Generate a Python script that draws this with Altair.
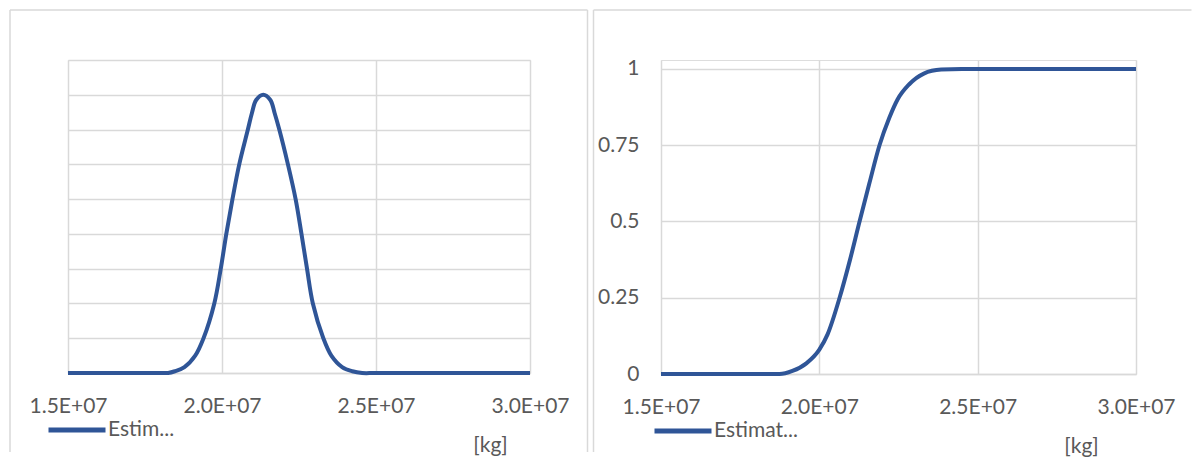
import altair as alt
import pandas as pd

# ---- data ----
x_ticks = [1.5e7, 2.0e7, 2.5e7, 3.0e7]
pdf_grid = [0, 5e-8, 1e-7, 1.5e-7, 2e-7, 2.5e-7, 3e-7, 3.5e-7, 4e-7, 4.5e-7]
cdf_ticks = [0, 0.25, 0.5, 0.75, 1]

pdf_x = [1.500e7, 1.800e7, 1.825e7, 1.847e7, 1.878e7, 1.913e7, 1.940e7, 1.975e7,
         1.996e7, 2.014e7, 2.034e7, 2.056e7, 2.084e7, 2.097e7, 2.111e7, 2.134e7,
         2.157e7, 2.171e7, 2.186e7, 2.214e7, 2.239e7, 2.258e7, 2.276e7, 2.295e7,
         2.329e7, 2.355e7, 2.390e7, 2.423e7, 2.455e7, 2.500e7, 3.000e7]
pdf_y = [0.0, 0.0, 0.0, 2.5e-9, 8.5e-9, 2.5e-8, 5.0e-8, 1.0e-7,
         1.5e-7, 2.0e-7, 2.5e-7, 3.0e-7, 3.5e-7, 3.735e-7, 3.925e-7, 4.0e-7,
         3.925e-7, 3.735e-7, 3.5e-7, 3.0e-7, 2.5e-7, 2.0e-7, 1.5e-7, 1.0e-7,
         5.0e-8, 2.5e-8, 8.5e-9, 2.5e-9, 0.0, 0.0, 0.0]

cdf_x = [1.500e7, 1.800e7, 1.874e7, 1.915e7, 1.959e7, 2.000e7, 2.026e7, 2.064e7,
         2.097e7, 2.127e7, 2.158e7, 2.190e7, 2.221e7, 2.247e7, 2.284e7, 2.330e7,
         2.385e7, 2.450e7, 3.000e7]
cdf_y = [0.0, 0.0, 0.0, 0.01, 0.035, 0.08, 0.13, 0.25,
         0.375, 0.5, 0.625, 0.75, 0.84, 0.9, 0.95, 0.985,
         0.998, 1.0, 1.0]

pdf_name = "Estim..."
cdf_name = "Estimat..."
unit_label = "[kg]"

# ---- style ----
BLUE = "#2F5597"
GRID = "#D9D9D9"
TEXT = "#595959"
FONT = "Lato"
FS = 21

pdf_df = pd.DataFrame({"mass": pdf_x, "value": pdf_y, "series": pdf_name})
cdf_df = pd.DataFrame({"mass": cdf_x, "value": cdf_y, "series": cdf_name})
frame_src = pd.DataFrame({"k": [0]})


def x_axis(title_x, title_y):
    return alt.Axis(
        values=x_ticks,
        labelExpr="format(datum.value / 1e7, '.1f') + 'E+07'",
        labelFontSize=FS, labelColor=TEXT, labelFont=FONT, labelPadding=22,
        labelFlush=False, labelOverlap=False,
        ticks=False, tickSize=0,
        domain=True, domainColor=GRID, domainWidth=1.5,
        grid=True, gridColor=GRID, gridWidth=1.5,
        title=unit_label, titleX=title_x, titleY=title_y,
        titleAlign="center", titleBaseline="middle",
        titleFontSize=FS, titleColor=TEXT, titleFont=FONT, titleFontWeight="normal",
    )


def legend(lx, ly):
    return alt.Legend(
        orient="none", legendX=lx, legendY=ly, title=None, padding=0,
        symbolType="stroke", symbolSize=3249, symbolStrokeWidth=5,
        labelFontSize=FS, labelColor=TEXT, labelFont=FONT, labelOffset=0,
    )


def frame(x0, x1, y0, y1, right_edge):
    base = alt.Chart(frame_src)
    parts = [
        base.mark_rule(color=GRID, strokeWidth=1.5).encode(
            x=alt.value(x0), y=alt.value(y0), y2=alt.value(y1)),
        base.mark_rule(color=GRID, strokeWidth=1.5).encode(
            x=alt.value(x0), x2=alt.value(x1), y=alt.value(y0)),
    ]
    if right_edge:
        parts.append(base.mark_rule(color=GRID, strokeWidth=1.5).encode(
            x=alt.value(x1), y=alt.value(y0), y2=alt.value(y1)))
    return parts


left_line = alt.Chart(pdf_df).mark_line(strokeWidth=4, interpolate="catmull-rom").encode(
    x=alt.X("mass:Q", scale=alt.Scale(domain=[1.5e7, 3.0e7], nice=False),
            axis=x_axis(422, 72)),
    y=alt.Y("value:Q", scale=alt.Scale(domain=[0, 4.5e-7], nice=False),
            axis=alt.Axis(values=pdf_grid, labels=False, ticks=False, domain=False,
                          grid=True, gridColor=GRID, gridWidth=1.5, title=None)),
    color=alt.Color("series:N", scale=alt.Scale(domain=[pdf_name], range=[BLUE]),
                    legend=legend(-22, 339)),
)

left = alt.layer(*frame(-58, 519.5, -50, 392, True), left_line).properties(
    width=462, height=313)

right_line = alt.Chart(cdf_df).mark_line(strokeWidth=4, interpolate="monotone").encode(
    x=alt.X("mass:Q", scale=alt.Scale(domain=[1.5e7, 3.0e7], nice=False),
            axis=x_axis(420, 72)),
    y=alt.Y("value:Q", scale=alt.Scale(domain=[0, 1.0295], nice=False),
            axis=alt.Axis(values=cdf_ticks, labelExpr="'' + datum.value",
                          ticks=False, tickSize=0,
                          domain=False, grid=True, gridColor=GRID, gridWidth=1.5,
                          labelFontSize=FS, labelColor=TEXT, labelFont=FONT,
                          labelPadding=22, title=None)),
    color=alt.Color("series:N", scale=alt.Scale(domain=[cdf_name], range=[BLUE]),
                    legend=legend(-9, 340)),
)

right = alt.layer(*frame(-67.5, 530.5, -50, 392, False), right_line).properties(
    width=475, height=314)

chart = (
    alt.hconcat(left, right, spacing=131, bounds="flush")
    .resolve_scale(color="independent")
    .resolve_legend(color="independent")
    .properties(padding=0, background="white")
    .configure_view(stroke=None)
    .configure(font=FONT)
)

chart.save("out.html", embed_options={"renderer": "svg", "actions": False})
